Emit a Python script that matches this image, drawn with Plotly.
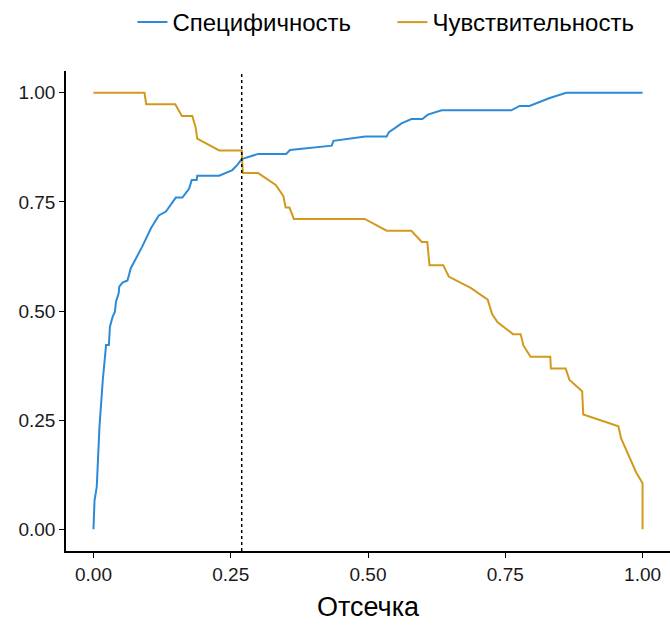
import plotly.graph_objects as go

# Specificity (blue)
spec_x = [0.000, 0.002, 0.006, 0.011, 0.017, 0.022, 0.023, 0.028, 0.030, 0.035, 0.039, 0.041,
          0.046, 0.047, 0.050, 0.053, 0.062, 0.068, 0.089, 0.094, 0.105, 0.119, 0.132, 0.150,
          0.162, 0.174, 0.179, 0.188, 0.189, 0.229, 0.253, 0.262, 0.270, 0.300, 0.351, 0.358,
          0.434, 0.437, 0.495, 0.534, 0.538, 0.549, 0.561, 0.579, 0.599, 0.609, 0.634, 0.761,
          0.776, 0.794, 0.831, 0.861, 1.000]
spec_y = [0.000, 0.066, 0.097, 0.235, 0.342, 0.410, 0.422, 0.422, 0.464, 0.487, 0.498, 0.521,
          0.541, 0.556, 0.560, 0.565, 0.570, 0.598, 0.648, 0.661, 0.690, 0.719, 0.728, 0.760,
          0.760, 0.780, 0.800, 0.800, 0.810, 0.810, 0.823, 0.835, 0.848, 0.860, 0.860, 0.869,
          0.879, 0.890, 0.900, 0.900, 0.910, 0.919, 0.930, 0.940, 0.940, 0.950, 0.960, 0.960,
          0.970, 0.970, 0.988, 1.000, 1.000]

# Sensitivity (orange)
sens_x = [0.000, 0.093, 0.096, 0.149, 0.161, 0.180, 0.186, 0.189, 0.229, 0.270, 0.272, 0.300,
          0.332, 0.346, 0.350, 0.357, 0.365, 0.494, 0.534, 0.579, 0.598, 0.608, 0.612, 0.637,
          0.647, 0.687, 0.718, 0.726, 0.736, 0.764, 0.778, 0.783, 0.796, 0.832, 0.833, 0.860,
          0.867, 0.890, 0.892, 0.956, 0.961, 0.982, 0.988, 1.000, 1.000]
sens_y = [1.000, 1.000, 0.974, 0.974, 0.947, 0.947, 0.921, 0.895, 0.868, 0.868, 0.816, 0.816,
          0.789, 0.763, 0.737, 0.737, 0.711, 0.711, 0.684, 0.684, 0.658, 0.658, 0.605, 0.605,
          0.579, 0.553, 0.526, 0.493, 0.474, 0.447, 0.447, 0.421, 0.395, 0.395, 0.368, 0.368,
          0.342, 0.316, 0.263, 0.236, 0.208, 0.151, 0.131, 0.105, 0.000]

cutoff = 0.27
tick_vals = [0.0, 0.25, 0.5, 0.75, 1.0]
tick_text = ["0.00", "0.25", "0.50", "0.75", "1.00"]

BLUE = "#2b8bd8"
ORANGE = "#d29a1c"
FONT = "Liberation Sans, Arial, sans-serif"

fig = go.Figure()
fig.add_trace(go.Scatter(x=spec_x, y=spec_y, mode="lines", name="Специфичность",
                         line=dict(color=BLUE, width=2)))
fig.add_trace(go.Scatter(x=sens_x, y=sens_y, mode="lines", name="Чувствительность",
                         line=dict(color=ORANGE, width=2)))

fig.add_shape(type="line", xref="x", yref="paper", x0=cutoff, x1=cutoff, y0=0, y1=1,
              line=dict(color="black", width=1.5, dash="dot"))

axis_common = dict(
    showgrid=False, zeroline=False, showline=True, linecolor="black", linewidth=1.6,
    ticks="outside", ticklen=5, tickwidth=1.3, tickcolor="black",
    tickfont=dict(family=FONT, size=19, color="#1a1a1a"),
    tickvals=tick_vals, ticktext=tick_text, range=[-0.05, 1.05],
)

fig.update_layout(
    width=670, height=626,
    margin=dict(l=66, r=0, t=71, b=75),
    plot_bgcolor="white", paper_bgcolor="white",
    font=dict(family=FONT, color="black"),
    xaxis=dict(**axis_common, title=dict(text="Отсечка", font=dict(family=FONT, size=27), standoff=14)),
    yaxis=dict(**axis_common),
    showlegend=True,
    legend=dict(orientation="h", x=0.11, xanchor="left", y=1.0, yanchor="top",
                yref="container", font=dict(family=FONT, size=24), itemwidth=30,
                entrywidth=215, entrywidthmode="pixels",
                bgcolor="rgba(0,0,0,0)"),
)

fig.write_html("out.html")
